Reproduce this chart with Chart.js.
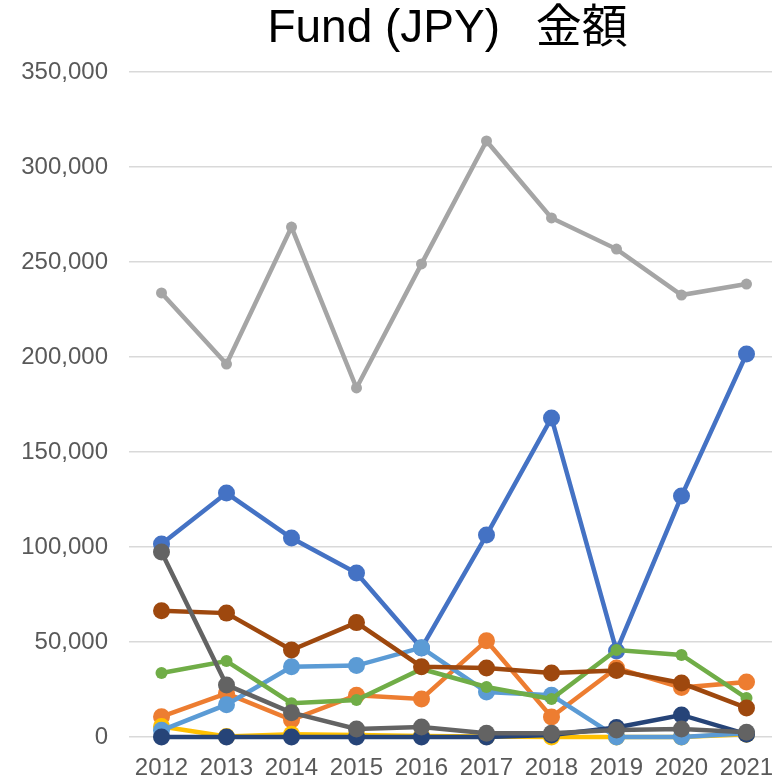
<!DOCTYPE html>
<html>
<head>
<meta charset="utf-8">
<title>Fund (JPY) 金額</title>
<script src="https://cdn.jsdelivr.net/npm/chart.js@4/dist/chart.umd.min.js"></script>
<style>
  html, body { margin: 0; padding: 0; background: #fff; overflow: hidden; }
  #wrap { width: 779px; height: 776px; }
</style>
</head>
<body>
<div id="wrap"><canvas id="chart-fund" width="779" height="776"></canvas></div>
<script>
// ═══════════════════════════════════════════
// DATA
// ═══════════════════════════════════════════
const years = ['2012', '2013', '2014', '2015', '2016', '2017', '2018', '2019', '2020', '2021'];
const yTicks = [0, 50000, 100000, 150000, 200000, 250000, 300000, 350000];

const serie1 = [101600, 128400, 104700, 86300, 46800, 106300, 167900, 45300, 126800, 201600];
const serie2 = [10700, 23000, 9000, 22000, 20000, 50700, 10500, 36300, 26000, 29000];
const serie3 = [233700, 196300, 268400, 183700, 249000, 313700, 273200, 256800, 232600, 238400];
const serie4 = [5500, 300, 1500, 1000, 500, 200, 0, 0, 0, 1500];
const serie5 = [3500, 17000, 37000, 37600, 47000, 23700, 22000, 0, 0, 2000];
const serie6 = [33700, 40000, 17800, 19500, 35800, 26300, 20000, 45800, 43200, 20500];
const serie7 = [0, 0, 0, 0, 0, 0, 1000, 5000, 11600, 1500];
const serie8 = [66500, 65200, 45800, 60200, 37000, 36300, 33700, 35000, 28400, 15300];
const serie9 = [97400, 27400, 12800, 4200, 5300, 2000, 2000, 3700, 4200, 2500];

// ═══════════════════════════════════════════
// CHART
// ═══════════════════════════════════════════
const FONT = "'Liberation Sans', Arial, sans-serif";

function linea(label, data, color, radio, orden) {
  return {
    label,
    data,
    borderColor: color,
    backgroundColor: color,
    borderWidth: 4.5,
    tension: 0,
    pointRadius: radio,
    pointHoverRadius: radio,
    pointBorderWidth: 0,
    pointBackgroundColor: color,
    clip: false,
    order: orden,
  };
}

// Excel pinta la serie 1 abajo y la 9 arriba
const datasets = [
  linea('Series1', serie1, '#4472C4', 8.5, 9),
  linea('Series2', serie2, '#ED7D31', 8.5, 8),
  linea('Series3', serie3, '#A5A5A5', 5.5, 7),
  linea('Series4', serie4, '#FFC000', 8.5, 6),
  linea('Series5', serie5, '#5B9BD5', 8.5, 5),
  linea('Series6', serie6, '#70AD47', 6, 4),
  linea('Series7', serie7, '#264478', 8.5, 3),
  linea('Series8', serie8, '#9E480E', 8.5, 2),
  linea('Series9', serie9, '#636363', 8.5, 1),
];

new Chart(document.getElementById('chart-fund'), {
  type: 'line',
  data: { labels: years, datasets },
  options: {
    responsive: false,
    animation: false,
    layout: { padding: 0, autoPadding: false },
    plugins: {
      legend: { display: false },
      tooltip: { enabled: false },
      title: {
        display: true,
        text: 'Fund (JPY)\u2002 金額 ',
        color: '#000',
        fullSize: false,
        font: { family: "'Liberation Sans', 'Noto Sans CJK JP', sans-serif", size: 46, weight: 'normal' },
        padding: { top: 2, bottom: 14.8 },
      }
    },
    scales: {
      x: {
        type: 'category',
        offset: true,
        grid: { display: false, drawTicks: false },
        border: { display: false },
        ticks: { color: '#595959', font: { family: FONT, size: 24 }, padding: 17, maxRotation: 0, autoSkip: false },
        afterFit: s => { s.height = 39; s.paddingLeft = 0; s.paddingRight = 0; },
      },
      y: {
        min: 0,
        max: 350000,
        afterBuildTicks: s => { s.ticks = yTicks.map(v => ({ value: v })); },
        grid: { color: '#D9D9D9', lineWidth: 1.5, drawTicks: false },
        border: { display: false },
        ticks: {
          color: '#595959',
          font: { family: FONT, size: 24 },
          padding: 21,
          callback: v => v.toLocaleString('en-US'),
        },
        afterFit: s => { s.width = 129; },
      }
    }
  }
});
</script>
</body>
</html>
